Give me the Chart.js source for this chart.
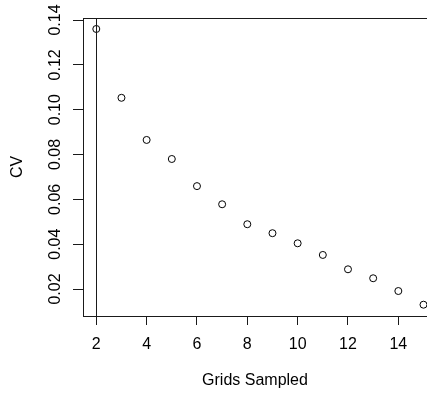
<!DOCTYPE html>
<html lang="en">
<head>
    <meta charset="UTF-8">
    <title>CV by grids sampled</title>
    <style>
        body{
            margin: 0;
            background: #fff;
        }
    </style>
</head>
<body>
    <canvas id="cvChart" width="427" height="394"></canvas>

    <script src="https://cdn.jsdelivr.net/npm/chart.js"></script>
    <script>

        const grids = [2, 3, 4, 5, 6, 7, 8, 9, 10, 11, 12, 13, 14, 15];
        const cv = [0.1360, 0.1053, 0.0865, 0.0780, 0.0659, 0.0578, 0.0489,
                    0.0449, 0.0404, 0.0352, 0.0288, 0.0248, 0.0191, 0.0130];
        const xTicks = [2, 4, 6, 8, 10, 12, 14];
        const yTicks = [0.02, 0.04, 0.06, 0.08, 0.10, 0.12, 0.14];
        const refLineX = 2;

        const font = { family: "'Liberation Sans', Arial, sans-serif", size: 16 };
        const ink = '#1a1a1a';

        // box, reference line and the rotated y tick labels
        const extras = {
            id: 'extras',
            afterDraw(chart) {
                const c = chart.ctx;
                const a = chart.chartArea;
                const xs = chart.scales.x;
                const ys = chart.scales.y;
                c.save();
                c.strokeStyle = ink;
                c.lineWidth = 1;
                c.beginPath();
                c.moveTo(a.left, a.top + 0.5);
                c.lineTo(a.right + 5, a.top + 0.5);
                const vx = Math.round(xs.getPixelForValue(refLineX)) + 0.5;
                c.moveTo(vx, a.top);
                c.lineTo(vx, a.bottom);
                c.stroke();

                c.fillStyle = '#000';
                c.font = font.size + 'px ' + font.family;
                c.textAlign = 'center';
                c.textBaseline = 'middle';
                ys.ticks.forEach(t => {
                    c.save();
                    c.translate(56, ys.getPixelForValue(t.value));
                    c.rotate(-Math.PI / 2);
                    c.fillText(t.value.toFixed(2), 0, 0);
                    c.restore();
                });
                c.restore();
            }
        };

        const ctx = document.getElementById('cvChart').getContext('2d');
        new Chart(ctx, {
            type: 'scatter',
            data: {
                datasets: [{
                    label: 'CV',
                    data: grids.map((g, i) => ({ x: g, y: cv[i] })),
                    pointStyle: 'circle',
                    pointRadius: 3.5,
                    pointBorderWidth: 1,
                    borderColor: '#000',
                    backgroundColor: 'rgba(0,0,0,0)',
                    clip: false
                }]
            },
            options: {
                responsive: false,
                animation: false,
                devicePixelRatio: 1,
                layout: {
                    autoPadding: false,
                    padding: { top: 18, left: 0, right: 0, bottom: 0 }
                },
                plugins: {
                    legend: { display: false },
                    tooltip: { enabled: false }
                },
                scales: {
                    x: {
                        type: 'linear',
                        min: 1.472,
                        max: 15.139,
                        afterBuildTicks: s => { s.ticks = xTicks.map(v => ({ value: v })); },
                        afterFit: s => { s.height = 78; },
                        grid: {
                            drawOnChartArea: false,
                            drawTicks: true,
                            tickLength: 9,
                            color: ink
                        },
                        border: { display: true, color: ink },
                        ticks: { color: '#000', font: font, padding: 10, maxRotation: 0 },
                        title: {
                            display: true,
                            text: 'Grids Sampled',
                            color: '#000',
                            font: font,
                            padding: { top: 0, bottom: 4 }
                        }
                    },
                    y: {
                        type: 'linear',
                        min: 0.00796,
                        max: 0.1409,
                        afterBuildTicks: s => { s.ticks = yTicks.map(v => ({ value: v })); },
                        afterFit: s => { s.width = 83; },
                        grid: {
                            drawOnChartArea: false,
                            drawTicks: true,
                            tickLength: 10,
                            color: ink
                        },
                        border: { display: true, color: ink },
                        ticks: { display: false },
                        title: {
                            display: true,
                            text: 'CV',
                            color: '#000',
                            font: font,
                            padding: { top: 8, bottom: 0 }
                        }
                    }
                }
            },
            plugins: [extras]
        });
    </script>
</body>
</html>
